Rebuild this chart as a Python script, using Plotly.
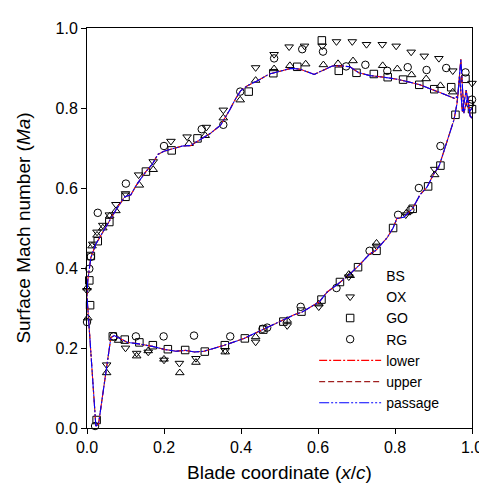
import plotly.graph_objects as go

# CFD curve: suction side (x ascending) and pressure side (x ascending)
suc_x = [0.0, 0.002, 0.006, 0.01, 0.023, 0.036, 0.054, 0.075, 0.098, 0.114, 0.13, 0.153, 0.17, 0.184,
         0.2, 0.218, 0.248, 0.269, 0.292, 0.321, 0.347, 0.37, 0.386, 0.399, 0.417, 0.443, 0.473, 0.502,
         0.529, 0.554, 0.59, 0.637, 0.663, 0.683, 0.706, 0.735, 0.771, 0.805, 0.823, 0.865, 0.9, 0.935,
         0.955, 0.963, 0.971, 0.979, 0.989, 0.995, 1.0]
suc_y = [0.33, 0.369, 0.40, 0.426, 0.46, 0.484, 0.511, 0.545, 0.578, 0.583, 0.61, 0.641, 0.66, 0.684,
         0.692, 0.696, 0.705, 0.706, 0.72, 0.737, 0.757, 0.794, 0.823, 0.843, 0.856, 0.868, 0.885, 0.893,
         0.899, 0.897, 0.884, 0.905, 0.905, 0.903, 0.888, 0.881, 0.877, 0.872, 0.868, 0.858, 0.844, 0.832,
         0.824, 0.83, 0.922, 0.787, 0.83, 0.78, 0.775]
pre_x = [0.0, 0.004, 0.012, 0.019, 0.023, 0.03, 0.04, 0.05, 0.062, 0.071, 0.09, 0.105, 0.13, 0.17,
         0.204, 0.231, 0.256, 0.279, 0.304, 0.357, 0.408, 0.456, 0.507, 0.538, 0.559, 0.603, 0.624, 0.657,
         0.684, 0.706, 0.734, 0.749, 0.779, 0.795, 0.805, 0.823, 0.845, 0.865, 0.883, 0.9, 0.915, 0.927,
         0.94, 0.953, 0.961, 0.968, 0.975, 0.985, 0.993, 1.0]
pre_y = [0.33, 0.27, 0.17, 0.057, 0.005, 0.01, 0.08, 0.155, 0.226, 0.231, 0.222, 0.214, 0.211, 0.204,
         0.196, 0.192, 0.194, 0.19, 0.192, 0.207, 0.224, 0.246, 0.268, 0.283, 0.29, 0.315, 0.34, 0.364,
         0.386, 0.406, 0.435, 0.443, 0.475, 0.5, 0.524, 0.527, 0.548, 0.583, 0.602, 0.634, 0.656, 0.693,
         0.73, 0.77, 0.811, 0.88, 0.79, 0.845, 0.79, 0.8]

# Experimental data
bs_x = [0.0, 0.002, 0.013, 0.026, 0.041, 0.059, 0.075, 0.136, 0.172, 0.265, 0.307, 0.354, 0.398, 0.438,
        0.486, 0.527, 0.568, 0.614, 0.652, 0.691, 0.768, 0.806, 0.843, 0.881, 0.918, 0.95,
        0.051, 0.082, 0.129, 0.159, 0.2, 0.241, 0.283, 0.359, 0.438, 0.52, 0.602, 0.68, 0.752, 0.83, 0.903]
bs_y = [0.35, 0.275, 0.455, 0.482, 0.5, 0.53, 0.543, 0.607, 0.646, 0.711, 0.731, 0.775, 0.82, 0.869,
        0.898, 0.906, 0.91, 0.908, 0.911, 0.918, 0.906, 0.898, 0.883, 0.873, 0.856, 0.84,
        0.138, 0.219, 0.18, 0.193, 0.172, 0.138, 0.164, 0.19, 0.228, 0.269, 0.31, 0.384, 0.462, 0.538, 0.633]

ox_x = [0.0, 0.015, 0.026, 0.041, 0.058, 0.075, 0.1, 0.134, 0.172, 0.218, 0.26, 0.31, 0.354, 0.438,
        0.486, 0.525, 0.565, 0.611, 0.648, 0.689, 0.726, 0.767, 0.803, 0.842, 0.876, 0.914, 0.95, 1.0,
        0.051, 0.1, 0.129, 0.159, 0.2, 0.24, 0.283, 0.359, 0.438, 0.52, 0.602, 0.68, 0.752, 0.828, 0.903]
ox_y = [0.344, 0.46, 0.49, 0.507, 0.533, 0.559, 0.586, 0.633, 0.666, 0.717, 0.728, 0.752, 0.795, 0.901,
        0.934, 0.953, 0.955, 0.955, 0.966, 0.966, 0.959, 0.959, 0.955, 0.94, 0.93, 0.924, 0.893, 0.862,
        0.158, 0.2, 0.187, 0.19, 0.17, 0.162, 0.174, 0.194, 0.215, 0.256, 0.303, 0.378, 0.455, 0.533, 0.647]

go_x = [0.006, 0.008, 0.01, 0.028, 0.058, 0.1, 0.153, 0.22, 0.287, 0.42, 0.484, 0.546, 0.61, 0.654,
        0.7, 0.745, 0.781, 0.821, 0.863, 0.902, 0.946, 0.983, 1.0,
        0.025, 0.067, 0.098, 0.136, 0.171, 0.21, 0.255, 0.306, 0.358, 0.41, 0.458, 0.51, 0.557, 0.609,
        0.657, 0.704, 0.752, 0.795, 0.846, 0.886, 0.918, 0.957]
go_y = [0.369, 0.307, 0.43, 0.467, 0.515, 0.578, 0.641, 0.694, 0.724, 0.841, 0.887, 0.903, 0.969, 0.893,
        0.888, 0.885, 0.877, 0.871, 0.858, 0.847, 0.852, 0.873, 0.797,
        0.02, 0.229, 0.221, 0.214, 0.207, 0.197, 0.195, 0.191, 0.207, 0.224, 0.246, 0.266, 0.291, 0.321,
        0.365, 0.402, 0.443, 0.5, 0.548, 0.604, 0.656, 0.783]

rg_x = [0.0, 0.006, 0.01, 0.028, 0.101, 0.2, 0.298, 0.354, 0.398, 0.486, 0.559, 0.613, 0.673, 0.723,
        0.78, 0.833, 0.882, 0.933, 0.983, 1.0, 0.995,
        0.021, 0.069, 0.127, 0.199, 0.278, 0.372, 0.456, 0.468, 0.555, 0.648, 0.734, 0.808, 0.84, 0.862, 0.918]
rg_y = [0.265, 0.398, 0.428, 0.538, 0.611, 0.705, 0.747, 0.758, 0.841, 0.924, 0.947, 0.941, 0.904, 0.908,
        0.893, 0.902, 0.895, 0.9, 0.889, 0.821, 0.81,
        0.005, 0.229, 0.229, 0.229, 0.231, 0.229, 0.248, 0.251, 0.303, 0.35, 0.443, 0.533, 0.545, 0.6, 0.705]

tick_vals = [0.0, 0.2, 0.4, 0.6, 0.8, 1.0]

cfd_x = suc_x[::-1] + pre_x[1:]
cfd_y = suc_y[::-1] + pre_y[1:]

FONT = "Arial, 'Liberation Sans', sans-serif"
fig = go.Figure()

def add_markers(x, y, name, symbol):
    fig.add_trace(go.Scatter(x=x, y=y, name=name, mode="markers", cliponaxis=False,
                             marker=dict(symbol=symbol, size=7.5, color="black",
                                         line=dict(color="black", width=1))))

add_markers(bs_x, bs_y, "BS", "triangle-up-open")
add_markers(ox_x, ox_y, "OX", "triangle-down-open")
add_markers(go_x, go_y, "GO", "square-open")
add_markers(rg_x, rg_y, "RG", "circle-open")

fig.add_trace(go.Scatter(x=cfd_x, y=cfd_y, name="lower", mode="lines",
                         line=dict(color="red", width=1.1, dash="8px,2px,2px,2px")))
fig.add_trace(go.Scatter(x=cfd_x, y=cfd_y, name="upper", mode="lines",
                         line=dict(color="#a02020", width=1.1, dash="6px,3px")))
fig.add_trace(go.Scatter(x=cfd_x, y=cfd_y, name="passage", mode="lines",
                         line=dict(color="blue", width=1.1, dash="10px,2px,2px,2px,2px,2px")))

axis_common = dict(range=[0, 1], tickvals=tick_vals, tickformat=".1f", ticks="outside", ticklen=5,
                   tickcolor="black", showgrid=False, zeroline=False, showline=True, linecolor="black",
                   linewidth=1, mirror=True, tickfont=dict(family=FONT, size=16, color="black"))

fig.update_xaxes(**axis_common,
                 title=dict(text="Blade coordinate (<i>x</i>/<i>c</i>)",
                            font=dict(family=FONT, size=19, color="black"), standoff=10))
fig.update_yaxes(**axis_common,
                 title=dict(text="Surface Mach number (<i>Ma</i>)",
                            font=dict(family=FONT, size=19, color="black"), standoff=19))

fig.update_layout(
    width=487, height=488,
    margin=dict(l=79, r=22, t=13, b=68),
    plot_bgcolor="white", paper_bgcolor="white",
    font=dict(family=FONT, color="black"),
    legend=dict(x=0.59, y=0.42, xanchor="left", yanchor="top", bgcolor="rgba(0,0,0,0)",
                font=dict(family=FONT, size=14, color="black"), itemwidth=62, tracegroupgap=0),
)

fig.write_html("out.html")
